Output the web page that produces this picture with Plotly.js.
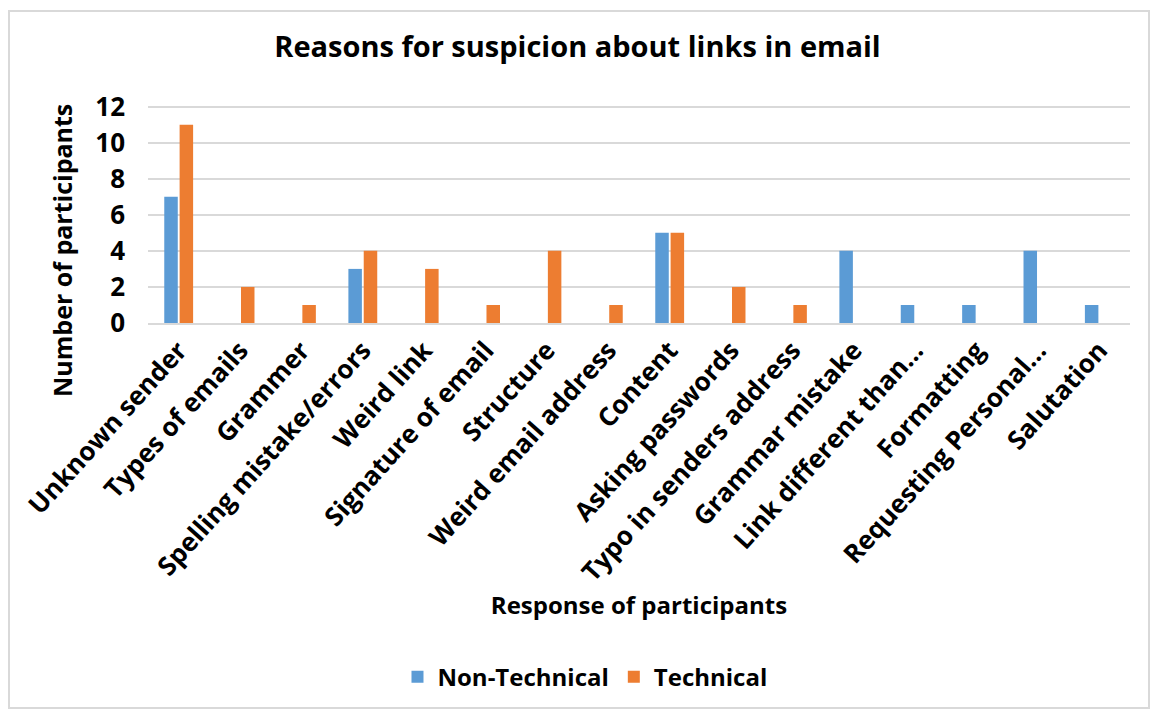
<!DOCTYPE html>
<html>
<head>
<meta charset="utf-8">
<script src="https://cdn.plot.ly/plotly-3.0.1.min.js"></script>
<style>
html,body{margin:0;padding:0;background:#fff;}
#frame{position:absolute;left:8px;top:10px;width:1138px;height:695px;border:2px solid #d9d9d9;}
#chart{position:absolute;left:0;top:0;width:1155px;height:717px;}
</style>
</head>
<body>
<div id="frame"></div>
<div id="chart"></div>
<script>
const categories = ["Unknown sender","Types of emails","Grammer","Spelling mistake/errors","Weird link","Signature of email","Structure","Weird email address","Content","Asking passwords","Typo in senders address","Grammar mistake","Link different than...","Formatting","Requesting Personal...","Salutation"];
const nonTechnical = [7,0,0,3,0,0,0,0,5,0,0,4,1,1,4,1];
const technical = [11,2,1,4,3,1,4,1,5,2,1,0,0,0,0,0];
const yTicks = [0,2,4,6,8,10,12];

const font = "'Open Sans', 'Noto Sans', sans-serif";
const data = [
  {type:"bar", name:"<b>Non-Technical</b>", x:categories, y:nonTechnical, marker:{color:"#5B9BD5"}},
  {type:"bar", name:"<b>Technical</b>", x:categories, y:technical, marker:{color:"#ED7D31"}}
];
const layout = {
  width:1155, height:717,
  paper_bgcolor:"rgba(0,0,0,0)", plot_bgcolor:"rgba(0,0,0,0)",
  margin:{l:148, r:25, t:103, b:394},
  barmode:"group", bargap:0.5, bargroupgap:0.12,
  title:{text:"<b>Reasons for suspicion about links in email</b>", x:0.5, xanchor:"center", y:0.935, yanchor:"middle",
         font:{family:font, size:29, color:"#000"}},
  xaxis:{type:"category", tickangle:-48, automargin:false,
         tickfont:{family:font, size:26, color:"#000", weight:"bold"},
         showline:true, linecolor:"#d9d9d9", linewidth:1.5, ticks:"",
         title:{text:"<b>Response of participants</b>", font:{family:font, size:24, color:"#000"}, standoff:2}},
  yaxis:{range:[0,12.2], tickvals:yTicks, automargin:false, showgrid:true, gridcolor:"#d9d9d9", gridwidth:1.5,
         zeroline:false, showline:false, ticks:"", ticklabelstandoff:22,
         tickfont:{family:font, size:26, color:"#000", weight:"bold"}},
  annotations:[{text:"<b>Number of participants</b>", xref:"paper", yref:"paper", x:-0.087, y:0.33,
                xanchor:"center", yanchor:"middle", textangle:-90, showarrow:false,
                font:{family:font, size:25, color:"#000"}}],
  showlegend:true,
  legend:{orientation:"h", x:0.445, xanchor:"center", y:-1.61, yanchor:"middle",
          font:{family:font, size:24, color:"#000"}, itemwidth:30}
};
Plotly.newPlot("chart", data, layout, {displayModeBar:false});
</script>
</body>
</html>
